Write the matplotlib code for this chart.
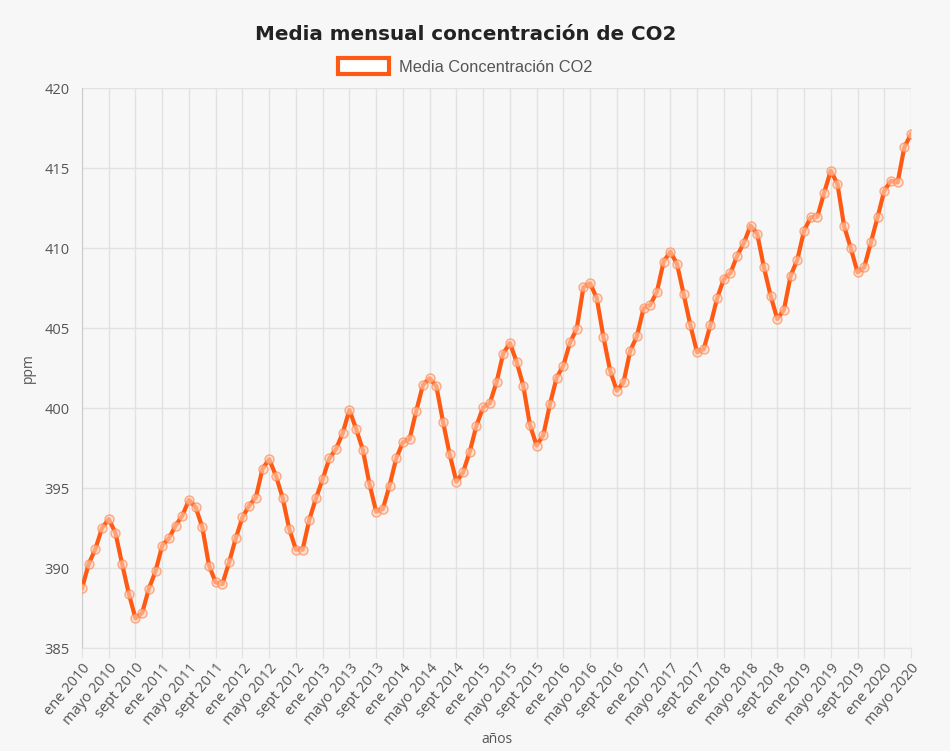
import numpy as np
import matplotlib.pyplot as plt
from matplotlib.patches import Patch

# monthly mean CO2 (ppm), ene 2010 .. mayo 2020
co2_2010 = [388.73, 390.25, 391.19, 392.50, 393.06, 392.20, 390.25, 388.40, 386.85, 387.20, 388.70, 389.80]
co2_2011 = [391.40, 391.86, 392.65, 393.27, 394.25, 393.80, 392.54, 390.15, 389.10, 389.00, 390.35, 391.86]
co2_2012 = [393.17, 393.90, 394.40, 396.20, 396.80, 395.77, 394.40, 392.44, 391.15, 391.15, 393.02, 394.36]
co2_2013 = [395.56, 396.85, 397.44, 398.44, 399.88, 398.69, 397.40, 395.25, 393.52, 393.69, 395.15, 396.85]
co2_2014 = [397.86, 398.06, 399.83, 401.44, 401.86, 401.36, 399.14, 397.10, 395.40, 395.98, 397.27, 398.90]
co2_2015 = [400.04, 400.30, 401.60, 403.40, 404.06, 402.90, 401.40, 398.94, 397.65, 398.30, 400.25, 401.90]
co2_2016 = [402.65, 404.10, 404.94, 407.54, 407.80, 406.86, 404.42, 402.33, 401.08, 401.60, 403.58, 404.48]
co2_2017 = [406.23, 406.44, 407.27, 409.15, 409.77, 409.00, 407.10, 405.17, 403.48, 403.69, 405.19, 406.86]
co2_2018 = [408.06, 408.44, 409.52, 410.31, 411.40, 410.88, 408.79, 407.02, 405.56, 406.15, 408.27, 409.27]
co2_2019 = [411.08, 411.92, 411.96, 413.44, 414.83, 414.00, 411.36, 409.98, 408.48, 408.79, 410.35, 411.92]
co2_2020 = [413.58, 414.20, 414.10, 416.29, 417.13]

years = list(range(2010, 2021))
month_names = ["ene", "feb", "mar", "abr", "mayo", "jun", "jul", "ago", "sept", "oct", "nov", "dic"]

co2 = (co2_2010 + co2_2011 + co2_2012 + co2_2013 + co2_2014 + co2_2015
       + co2_2016 + co2_2017 + co2_2018 + co2_2019 + co2_2020)
labels = [f"{month_names[i % 12]} {years[i // 12]}" for i in range(len(co2))]

orange = "#ff5a14"
bg = "#f7f7f7"
grid_col = "#e2e2e2"
txt = "#555555"

plt.rcParams["font.family"] = ["Open Sans", "DejaVu Sans"]

W, H = 950, 751
fig = plt.figure(figsize=(W / 100, H / 100), dpi=100, facecolor=bg)
ax = fig.add_axes([82 / W, 1 - 648 / H, (911 - 82) / W, (648 - 88) / H])
ax.set_facecolor(bg)

x = np.arange(len(co2))
ax.plot(x, co2, color=orange, lw=3, marker="o", ms=6.5,
        mfc=(1.0, 0.82, 0.72, 0.6), mec=(1.0, 0.45, 0.2, 0.55), mew=1, zorder=3)

ax.set_xlim(0, len(co2) - 1)
ax.set_ylim(385, 420)
ax.set_yticks(np.arange(385, 421, 5))
ax.set_xticks(x[::4])
ax.set_xticklabels(labels[::4], rotation=50, ha="right", va="top",
                   rotation_mode="anchor", fontsize=10.5, color=txt)
ax.tick_params(axis="y", labelsize=10.5, labelcolor=txt, length=0, pad=9)
ax.tick_params(axis="x", length=7, color=grid_col, pad=2)

ax.grid(True, color=grid_col, lw=1)
ax.set_axisbelow(True)
for s in ["top", "right"]:
    ax.spines[s].set_visible(False)
ax.spines["left"].set_color("#cccccc")
ax.spines["bottom"].set_color(grid_col)

ax.set_ylabel("ppm", fontsize=10, color=txt, labelpad=6)
ax.set_xlabel("años", fontsize=10, color=txt, labelpad=3)

fig.text(466 / W, 1 - 39.5 / H, "Media mensual concentración de CO2",
         ha="center", va="baseline", fontsize=14.3, fontweight="bold",
         family="DejaVu Sans", color="#222222")
fig.legend(handles=[Patch(facecolor="white", edgecolor=orange, lw=3,
                          label="Media Concentración CO2")],
           loc="center", bbox_to_anchor=(465 / W, 1 - 66.5 / H), frameon=False,
           handlelength=3.1, handleheight=1.05, handletextpad=0.6,
           prop={"family": "Liberation Sans", "size": 11.8}, labelcolor=txt)

fig.savefig("out.png", dpi=100, facecolor=bg)
